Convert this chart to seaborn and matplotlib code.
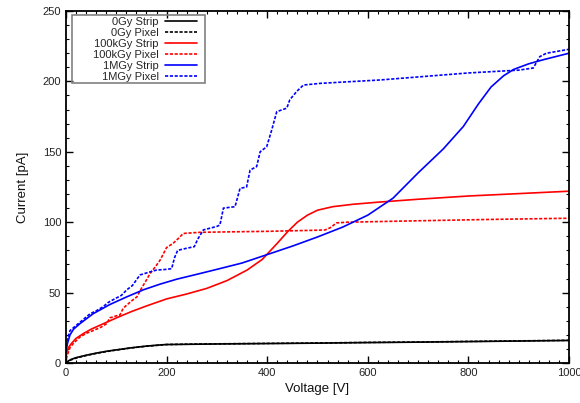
import pandas as pd
import matplotlib
matplotlib.use("Agg")
import matplotlib.pyplot as plt
import seaborn as sns
from matplotlib.ticker import MultipleLocator
from matplotlib.patches import Rectangle

# values
v_0gy_strip = [0, 5, 10, 20, 40, 60, 80, 100, 130, 160, 190, 200, 250, 300, 400, 500, 600, 700, 800, 900, 1000]
i_0gy_strip = [0, 1.5, 2.5, 3.8, 5.5, 7, 8.3, 9.3, 10.8, 12, 12.9, 13.1, 13.3, 13.5, 13.8, 14.1, 14.5, 14.8, 15.2, 15.6, 16.0]

v_0gy_pixel = [0, 5, 10, 20, 40, 60, 80, 100, 130, 160, 190, 200, 250, 300, 400, 500, 600, 700, 800, 900, 1000]
i_0gy_pixel = [0, 1.2, 2.2, 3.5, 5.3, 6.8, 8.1, 9.2, 10.7, 11.9, 12.8, 13.1, 13.4, 13.6, 13.9, 14.2, 14.6, 14.9, 15.3, 15.7, 16.1]

v_100k_strip = [0, 2, 5, 10, 20, 35, 50, 75, 100, 130, 160, 200, 240, 280, 320, 360, 390, 420, 440, 460,
                480, 500, 530, 570, 620, 700, 800, 900, 1000]
i_100k_strip = [4, 8, 11, 13.5, 17.5, 21, 24, 28, 32, 36.5, 40.5, 45.5, 49, 53, 58.5, 66, 73.5, 85, 93, 100,
                105, 108.5, 111, 112.7, 114.2, 116.3, 118.6, 120.3, 122]

v_100k_pixel = [0, 3, 8, 15, 28, 40, 54, 70, 81, 87, 100, 107, 114, 130, 141, 150, 160, 167, 177, 187, 200,
                213, 225, 233, 266, 300, 400, 500, 515, 525, 538, 560, 700, 850, 1000]
i_100k_pixel = [3, 6, 11, 14, 18.5, 21, 23, 25.5, 28, 32, 33.5, 34, 39, 44, 47, 53, 59, 63.5, 68, 73, 82,
                85, 89, 92, 92.8, 93, 93.5, 94.3, 94.5, 96, 99.5, 100, 101, 102, 102.8]

v_1m_strip = [0, 3, 8, 15, 28, 54, 87, 121, 154, 187, 220, 266, 300, 350, 400, 450, 500, 550, 600, 650,
              700, 750, 790, 820, 845, 870, 890, 920, 950, 1000]
i_1m_strip = [8, 14, 20, 24, 28, 35, 41.5, 47, 52, 56, 59.5, 63.5, 66.5, 71, 77, 83, 89.5, 96.5, 105, 117,
              135, 152, 168, 184, 196, 204, 208.5, 212.5, 215.5, 220]

v_1m_pixel = [0, 3, 8, 18, 28, 38, 48, 60, 74, 84, 94, 110, 121, 132, 147, 165, 180, 200, 210, 216, 222,
              240, 255, 262, 273, 300, 306, 313, 336, 346, 359, 366, 379, 386, 399, 409, 419, 439, 445, 459,
              472, 505, 624, 800, 900, 929, 942, 955, 1000]
i_1m_pixel = [12, 17, 23, 26, 29, 32, 35, 37, 40, 43, 45, 48, 52, 55, 62.5, 64.5, 66, 66.5, 67, 75, 80,
              81.5, 82.6, 88, 94.5, 97, 98, 110, 111, 124, 125, 137, 139.5, 150, 153.6, 165.5, 178.5, 181, 187, 193,
              197.4, 198.6, 201, 206, 208, 209.5, 217.6, 220, 222.8]

series = [
    ("0Gy Strip", v_0gy_strip, i_0gy_strip, "black", "-"),
    ("0Gy Pixel", v_0gy_pixel, i_0gy_pixel, "black", "--"),
    ("100kGy Strip", v_100k_strip, i_100k_strip, "#ff0000", "-"),
    ("100kGy Pixel", v_100k_pixel, i_100k_pixel, "#ff0000", "--"),
    ("1MGy Strip", v_1m_strip, i_1m_strip, "#0000ff", "-"),
    ("1MGy Pixel", v_1m_pixel, i_1m_pixel, "#0000ff", "--"),
]

sns.set_style("ticks")
plt.rcParams["font.family"] = ["Liberation Sans", "DejaVu Sans"]

fig, ax = plt.subplots(figsize=(5.8, 4.03), dpi=100)
fig.subplots_adjust(left=0.1138, right=0.981, top=0.9727, bottom=0.0993)

for name, v, i, col, ls in series:
    df = pd.DataFrame({"Voltage": v, "Current": i})
    sns.lineplot(data=df, x="Voltage", y="Current", ax=ax, color=col, label=name,
                 linewidth=1.2, estimator=None)
    if ls == "--":
        ax.lines[-1].set_dashes((1.9, 1.0))

ax.set_xlim(0, 1000)
ax.set_ylim(0, 250)
ax.xaxis.set_major_locator(MultipleLocator(200))
ax.xaxis.set_minor_locator(MultipleLocator(20))
ax.yaxis.set_major_locator(MultipleLocator(50))
ax.yaxis.set_minor_locator(MultipleLocator(10))
ax.tick_params(which="both", direction="in", top=True, right=True, color="black",
               labelsize=8, labelcolor="#222222")
ax.tick_params(which="major", length=5, width=1)
ax.tick_params(which="minor", length=2.5, width=0.8)
for sp in ax.spines.values():
    sp.set_linewidth(1.3)
    sp.set_color("black")
ax.set_xlabel("Voltage [V]", fontsize=9.5, labelpad=4, color="#111111")
ax.set_ylabel("Current [pA]", fontsize=9.5, labelpad=10, color="#111111")

# legend, gnuplot style: labels right aligned, sample lines on the right, grey box
handles, labels = ax.get_legend_handles_labels()
leg = ax.legend(handles, labels, loc="upper right", bbox_to_anchor=(0.2604, 0.984), borderaxespad=0,
                markerfirst=False, fontsize=8, frameon=False,
                handlelength=2.9, handletextpad=0.55, labelspacing=0.1, borderpad=0)
for lh in leg.get_lines():
    lh.set_linewidth(1.2)
ax.add_patch(Rectangle((0.0119, 0.796), 0.2644, 0.1926, transform=ax.transAxes, fill=False,
                       edgecolor="gray", linewidth=1.2, zorder=5))

fig.savefig("out.png", dpi=100)
